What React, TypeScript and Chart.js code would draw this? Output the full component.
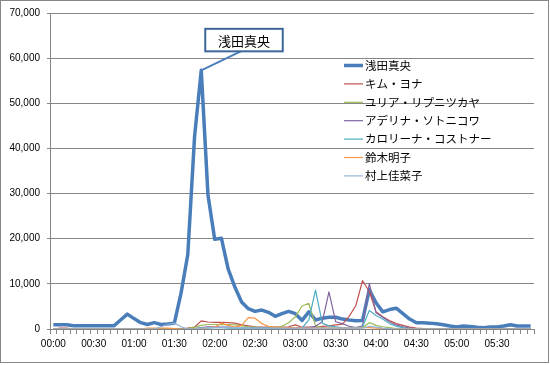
import React, { useEffect, useRef } from "react";
import { Chart, registerables } from "chart.js";

Chart.register(...registerables);

// ---- categories (5-minute steps) ----
const timeLabels = [
  "00:00", "00:05", "00:10", "00:15", "00:20", "00:25", "00:30", "00:35", "00:40", "00:45", "00:50", "00:55",
  "01:00", "01:05", "01:10", "01:15", "01:20", "01:25", "01:30", "01:35", "01:40", "01:45", "01:50", "01:55",
  "02:00", "02:05", "02:10", "02:15", "02:20", "02:25", "02:30", "02:35", "02:40", "02:45", "02:50", "02:55",
  "03:00", "03:05", "03:10", "03:15", "03:20", "03:25", "03:30", "03:35", "03:40", "03:45", "03:50", "03:55",
  "04:00", "04:05", "04:10", "04:15", "04:20", "04:25", "04:30", "04:35", "04:40", "04:45", "04:50", "04:55",
  "05:00", "05:05", "05:10", "05:15", "05:20", "05:25", "05:30", "05:35", "05:40", "05:45", "05:50", "05:55",
];

// ---- series values ----
const asadaMao = [
  950, 950, 950, 700, 700, 700, 700, 700, 700, 700,
  2000, 3300, 2300, 1400, 1000, 1400, 1000, 1100, 1300, 8000,
  16500, 42500, 57300, 29700, 19900, 20100, 13300, 9300, 6000, 4500,
  3900, 4200, 3700, 2800, 3400, 3900, 3400, 1900, 3800, 2000,
  2400, 2600, 2600, 2200, 2000, 1850, 1900, 8700, 5800, 3800,
  4300, 4600, 3400, 2200, 1400, 1400, 1300, 1150, 950, 650,
  450, 650, 550, 400, 300, 450, 450, 650, 950, 650,
  650, 650,
];
const kimYuna = [
  0, 200, 200, 0, 0, 0, 0, 0, 0, 0,
  0, 0, 0, 0, 0, 0, 0, 0, 0, 0,
  200, 400, 1800, 1550, 1450, 1500, 1400, 1300, 900, 700,
  500, 400, 400, 400, 400, 500, 900, 400, 400, 400,
  600, 700, 900, 1100, 2800, 5200, 10700, 8300, 3800, 2700,
  1900, 1200, 800, 400, 200, 100, 0, 0, 0, 0,
  0, 0, 0, 0, 0, 0, 0, 0, 0, 0,
  0, 0,
];
const yuliaLipnitskaya = [
  0, 0, 0, 0, 0, 0, 0, 0, 0, 0,
  0, 0, 0, 0, 0, 0, 0, 0, 0, 0,
  100, 400, 800, 1000, 1000, 950, 1000, 900, 700, 500,
  400, 300, 300, 300, 600, 1400, 2700, 5100, 5700, 700,
  300, 200, 200, 200, 100, 100, 300, 1400, 800, 500,
  300, 100, 0, 0, 0, 0, 0, 0, 0, 0,
  0, 0, 0, 0, 0, 0, 0, 0, 0, 0,
  0, 0,
];
const adelinaSotnikova = [
  0, 0, 0, 0, 0, 0, 0, 0, 0, 0,
  0, 0, 0, 0, 0, 0, 0, 0, 0, 0,
  0, 100, 300, 500, 500, 400, 400, 300, 300, 200,
  200, 200, 200, 200, 200, 200, 200, 200, 300, 600,
  1600, 8200, 1600, 1200, 600, 300, 700, 10100, 3600, 2600,
  1600, 900, 500, 200, 0, 0, 0, 0, 0, 0,
  0, 0, 0, 0, 0, 0, 0, 0, 0, 0,
  0, 0,
];
const carolinaKostner = [
  0, 0, 0, 0, 0, 0, 0, 0, 0, 0,
  0, 0, 0, 0, 0, 0, 0, 0, 0, 0,
  0, 100, 200, 200, 300, 300, 200, 200, 200, 200,
  200, 200, 200, 200, 200, 300, 300, 200, 2000, 8600,
  1300, 700, 500, 300, 200, 300, 500, 4100, 3000, 2200,
  1200, 600, 300, 100, 0, 0, 0, 0, 0, 0,
  0, 0, 0, 0, 0, 0, 0, 0, 0, 0,
  0, 0,
];
const akikoSuzuki = [
  0, 0, 0, 0, 0, 0, 0, 0, 0, 0,
  0, 0, 0, 0, 200, 200, 200, 200, 100, 0,
  0, 0, 100, 300, 400, 1300, 800, 400, 800, 2500,
  2400, 1200, 600, 400, 300, 300, 300, 200, 200, 200,
  200, 200, 200, 200, 200, 200, 300, 300, 200, 100,
  0, 0, 0, 0, 0, 0, 0, 0, 0, 0,
  0, 0, 0, 0, 0, 0, 0, 0, 0, 0,
  0, 0,
];
const kanakoMurakami = [
  0, 0, 0, 0, 0, 0, 0, 0, 0, 0,
  0, 0, 0, 0, 0, 0, 500, 1000, 1300, 500,
  0, 0, 200, 300, 300, 300, 400, 300, 300, 200,
  200, 200, 200, 200, 200, 200, 200, 200, 200, 200,
  200, 200, 200, 200, 200, 200, 200, 600, 400, 200,
  100, 0, 0, 0, 0, 0, 0, 0, 0, 0,
  0, 0, 0, 0, 0, 0, 0, 0, 0, 0,
  0, 0,
];

const seriesNames = [
  "浅田真央",
  "キム・ヨナ",
  "ユリア・リプニツカヤ",
  "アデリナ・ソトニコワ",
  "カロリーナ・コストナー",
  "鈴木明子",
  "村上佳菜子",
];
const seriesValues = [
  asadaMao, kimYuna, yuliaLipnitskaya, adelinaSotnikova,
  carolinaKostner, akikoSuzuki, kanakoMurakami,
];
const seriesColors = ["#4a7ebb", "#c0504d", "#9bbb59", "#8064a2", "#4bacc6", "#f79646", "#95b3d7"];
const seriesWidths = [3.5, 1.2, 1.2, 1.2, 1.2, 1.2, 1.2];

const yMax = 70000;
const yStep = 10000;
const calloutText = "浅田真央";

const GRID = "#868686";
const NUM_FONT = "'Liberation Sans', Arial, sans-serif";
const JP_FONT = "'Noto Sans CJK JP', sans-serif";

export default function App() {
  const ref = useRef<HTMLCanvasElement>(null);

  useEffect(() => {
    document.body.style.margin = "0";
    const canvas = ref.current;
    if (!canvas) return;

    const framePlugin = {
      id: "frame",
      beforeDraw(chart: any) {
        const c = chart.ctx;
        c.save();
        c.fillStyle = "#ffffff";
        c.fillRect(0, 0, chart.width, chart.height);
        c.restore();
      },
      afterDraw(chart: any) {
        const c = chart.ctx;
        c.save();
        c.strokeStyle = GRID;
        c.lineWidth = 1;
        c.strokeRect(0.5, 0.5, 548, 362);
        c.restore();
      },
    };

    const calloutPlugin = {
      id: "callout",
      afterDatasetsDraw(chart: any) {
        const data = seriesValues[0];
        const idx = data.indexOf(Math.max(...data));
        const meta = chart.getDatasetMeta(0);
        const pt = meta.data[idx];
        if (!pt) return;
        const px = pt.x;
        const py = pt.y;
        const c = chart.ctx;
        c.save();
        const left = px + 4;
        const top = py - 41.5;
        const w = 77.5;
        const h = 22.5;
        // leader
        c.strokeStyle = "#4a7ebb";
        c.lineWidth = 2;
        c.beginPath();
        c.moveTo(px + 1, py - 0.5);
        c.lineTo(px + 39.5, top + h);
        c.stroke();
        // box
        c.fillStyle = "#ffffff";
        c.fillRect(left, top, w, h);
        c.strokeStyle = "#3d6699";
        c.lineWidth = 2;
        c.strokeRect(left, top, w, h);
        c.fillStyle = "#000000";
        c.font = `13px ${JP_FONT}`;
        c.textAlign = "center";
        c.textBaseline = "middle";
        c.fillText(calloutText, left + w / 2, top + h / 2 + 0.5);
        c.restore();
      },
    };

    const legendPlugin = {
      id: "sideLegend",
      afterDraw(chart: any) {
        const c = chart.ctx;
        c.save();
        c.font = `11.5px ${JP_FONT}`;
        c.textAlign = "left";
        c.textBaseline = "middle";
        seriesNames.forEach((name, i) => {
          const y = 65.5 + i * 18.4;
          c.strokeStyle = seriesColors[i];
          c.lineWidth = seriesWidths[i];
          c.beginPath();
          c.moveTo(344, y);
          c.lineTo(363, y);
          c.stroke();
          c.fillStyle = "#000000";
          c.fillText(name, 365, y);
        });
        c.restore();
      },
    };

    const chart = new Chart(canvas, {
      type: "line",
      data: {
        labels: timeLabels,
        datasets: seriesNames.map((name, i) => ({
          label: name,
          data: seriesValues[i],
          borderColor: seriesColors[i],
          backgroundColor: seriesColors[i],
          borderWidth: seriesWidths[i],
          pointRadius: 0,
          tension: 0,
          fill: false,
          order: seriesNames.length - 1 - i,
          borderJoinStyle: "round" as const,
        })),
      },
      options: {
        responsive: false,
        animation: false,
        devicePixelRatio: 1,
        layout: { padding: { left: 0, top: 11, right: 16, bottom: 0 } },
        plugins: {
          legend: { display: false },
          tooltip: { enabled: false },
        },
        scales: {
          x: {
            type: "category",
            offset: true,
            grid: {
              offset: true,
              drawOnChartArea: false,
              drawTicks: true,
              tickLength: 5,
              color: GRID,
              lineWidth: 1,
            },
            border: { display: true, color: GRID, width: 1 },
            ticks: {
              autoSkip: false,
              maxRotation: 0,
              minRotation: 0,
              padding: 4,
              color: "#000000",
              font: { family: NUM_FONT, size: 10 },
              callback: (_v: any, i: number) => (i % 6 === 0 ? timeLabels[i] : ""),
            },
            afterFit: (s: any) => {
              s.height = 36;
            },
          },
          y: {
            min: 0,
            max: yMax,
            ticks: {
              stepSize: yStep,
              padding: 7,
              color: "#000000",
              font: { family: NUM_FONT, size: 10 },
              callback: (v: any) => Number(v).toLocaleString("en-US"),
            },
            grid: { color: GRID, tickLength: 3, lineWidth: 1 },
            border: { display: true, color: GRID, width: 1 },
            afterFit: (s: any) => {
              s.width = 50;
            },
          },
        },
      },
      plugins: [framePlugin, calloutPlugin, legendPlugin],
    });

    return () => chart.destroy();
  }, []);

  return (
    <div style={{ position: "absolute", left: 0, top: 0, width: 550, height: 365 }}>
      <canvas ref={ref} width={550} height={365} style={{ display: "block", width: 550, height: 365 }} />
    </div>
  );
}
